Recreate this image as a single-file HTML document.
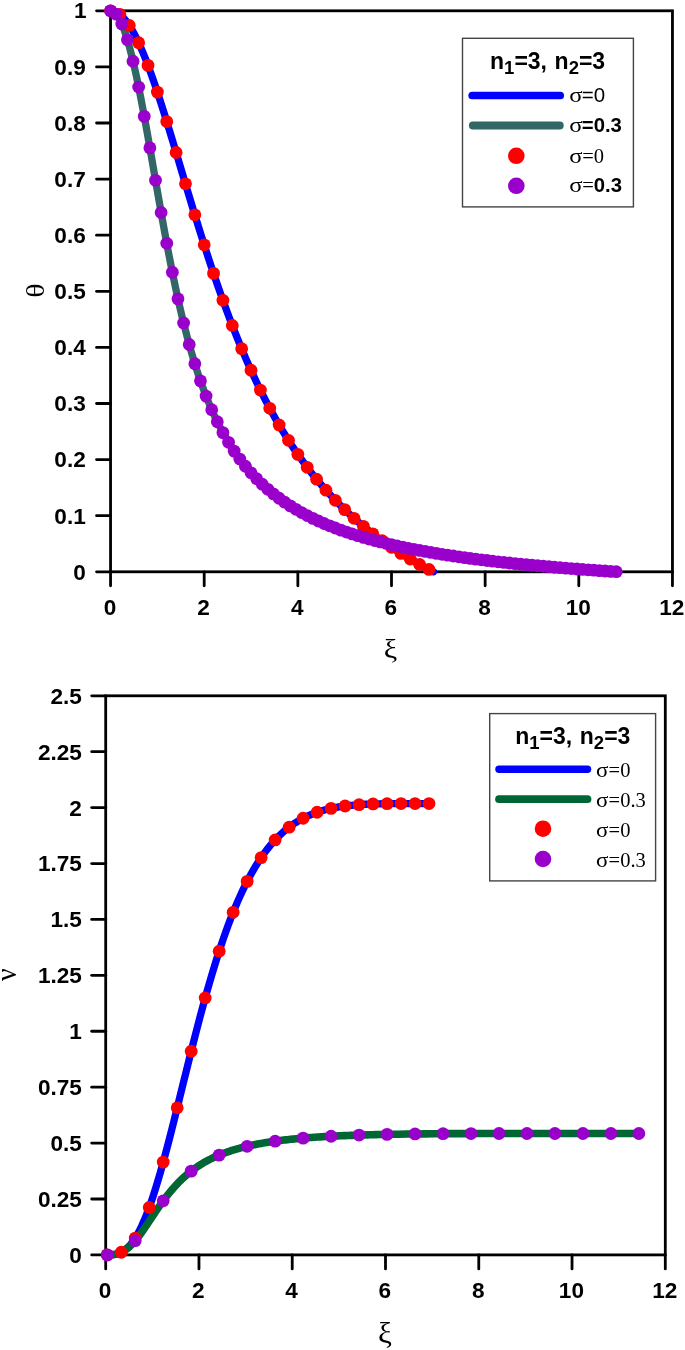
<!DOCTYPE html>
<html lang="en"><head><meta charset="utf-8"><title>Polytrope plots</title>
<style>html,body{margin:0;padding:0;background:#fff}svg{display:block}</style></head>
<body>
<svg width="685" height="1350" viewBox="0 0 685 1350">
<rect width="685" height="1350" fill="#fff"/>
<!-- top plot -->
<g stroke="#000" stroke-width="2.8" fill="none" stroke-linecap="butt">
<rect x="110.55" y="10.8" width="561.9" height="561"/>
<g stroke-linecap="round">
<line x1="110.55" y1="571.8" x2="110.55" y2="585.8"/>
<line x1="204.2" y1="571.8" x2="204.2" y2="585.8"/>
<line x1="297.85" y1="571.8" x2="297.85" y2="585.8"/>
<line x1="391.5" y1="571.8" x2="391.5" y2="585.8"/>
<line x1="485.15" y1="571.8" x2="485.15" y2="585.8"/>
<line x1="578.8" y1="571.8" x2="578.8" y2="585.8"/>
<line x1="672.45" y1="571.8" x2="672.45" y2="585.8"/>
<line x1="96.55" y1="571.8" x2="110.55" y2="571.8"/>
<line x1="96.55" y1="515.7" x2="110.55" y2="515.7"/>
<line x1="96.55" y1="459.6" x2="110.55" y2="459.6"/>
<line x1="96.55" y1="403.5" x2="110.55" y2="403.5"/>
<line x1="96.55" y1="347.4" x2="110.55" y2="347.4"/>
<line x1="96.55" y1="291.3" x2="110.55" y2="291.3"/>
<line x1="96.55" y1="235.2" x2="110.55" y2="235.2"/>
<line x1="96.55" y1="179.1" x2="110.55" y2="179.1"/>
<line x1="96.55" y1="123" x2="110.55" y2="123"/>
<line x1="96.55" y1="66.9" x2="110.55" y2="66.9"/>
<line x1="96.55" y1="10.8" x2="110.55" y2="10.8"/>
</g></g>
<text x="109.95" y="615.19" font-family='"Liberation Sans", Arial, Helvetica, sans-serif' font-size="22.6" font-weight="bold" text-anchor="middle">0</text>
<text x="203.6" y="615.19" font-family='"Liberation Sans", Arial, Helvetica, sans-serif' font-size="22.6" font-weight="bold" text-anchor="middle">2</text>
<text x="297.25" y="615.19" font-family='"Liberation Sans", Arial, Helvetica, sans-serif' font-size="22.6" font-weight="bold" text-anchor="middle">4</text>
<text x="390.9" y="615.19" font-family='"Liberation Sans", Arial, Helvetica, sans-serif' font-size="22.6" font-weight="bold" text-anchor="middle">6</text>
<text x="484.55" y="615.19" font-family='"Liberation Sans", Arial, Helvetica, sans-serif' font-size="22.6" font-weight="bold" text-anchor="middle">8</text>
<text x="578.2" y="615.19" font-family='"Liberation Sans", Arial, Helvetica, sans-serif' font-size="22.6" font-weight="bold" text-anchor="middle">10</text>
<text x="671.85" y="615.19" font-family='"Liberation Sans", Arial, Helvetica, sans-serif' font-size="22.6" font-weight="bold" text-anchor="middle">12</text>
<text x="85.75" y="579.69" font-family='"Liberation Sans", Arial, Helvetica, sans-serif' font-size="22.6" font-weight="bold" text-anchor="end">0</text>
<text x="85.75" y="523.59" font-family='"Liberation Sans", Arial, Helvetica, sans-serif' font-size="22.6" font-weight="bold" text-anchor="end">0.1</text>
<text x="85.75" y="467.49" font-family='"Liberation Sans", Arial, Helvetica, sans-serif' font-size="22.6" font-weight="bold" text-anchor="end">0.2</text>
<text x="85.75" y="411.39" font-family='"Liberation Sans", Arial, Helvetica, sans-serif' font-size="22.6" font-weight="bold" text-anchor="end">0.3</text>
<text x="85.75" y="355.29" font-family='"Liberation Sans", Arial, Helvetica, sans-serif' font-size="22.6" font-weight="bold" text-anchor="end">0.4</text>
<text x="85.75" y="299.19" font-family='"Liberation Sans", Arial, Helvetica, sans-serif' font-size="22.6" font-weight="bold" text-anchor="end">0.5</text>
<text x="85.75" y="243.09" font-family='"Liberation Sans", Arial, Helvetica, sans-serif' font-size="22.6" font-weight="bold" text-anchor="end">0.6</text>
<text x="85.75" y="186.99" font-family='"Liberation Sans", Arial, Helvetica, sans-serif' font-size="22.6" font-weight="bold" text-anchor="end">0.7</text>
<text x="85.75" y="130.89" font-family='"Liberation Sans", Arial, Helvetica, sans-serif' font-size="22.6" font-weight="bold" text-anchor="end">0.8</text>
<text x="85.75" y="74.79" font-family='"Liberation Sans", Arial, Helvetica, sans-serif' font-size="22.6" font-weight="bold" text-anchor="end">0.9</text>
<text x="86.55" y="17.69" font-family='"Liberation Sans", Arial, Helvetica, sans-serif' font-size="22.6" font-weight="bold" text-anchor="end">1</text>
<polyline points="110.55,10.8 112.87,11.03 115.2,11.72 117.52,12.86 119.84,14.46 122.17,16.5 124.49,18.98 126.81,21.88 129.14,25.19 131.46,28.9 133.78,33 136.11,37.46 138.43,42.27 140.75,47.42 143.08,52.87 145.4,58.62 147.72,64.64 150.05,70.91 152.37,77.42 154.69,84.13 157.02,91.03 159.34,98.11 161.66,105.33 163.99,112.69 166.31,120.15 168.63,127.72 170.96,135.35 173.28,143.05 175.6,150.8 177.93,158.57 180.25,166.36 182.57,174.15 184.9,181.93 187.22,189.69 189.54,197.41 191.87,205.09 194.19,212.72 196.51,220.29 198.84,227.8 201.16,235.23 203.48,242.57 205.81,249.83 208.13,257.01 210.45,264.08 212.78,271.06 215.1,277.93 217.42,284.7 219.75,291.37 222.07,297.92 224.39,304.36 226.72,310.7 229.04,316.92 231.36,323.03 233.69,329.02 236.01,334.91 238.33,340.68 240.66,346.34 242.98,351.89 245.3,357.34 247.63,362.67 249.95,367.89 252.27,373.01 254.6,378.03 256.92,382.94 259.24,387.75 261.57,392.46 263.89,397.07 266.21,401.59 268.54,406.01 270.86,410.33 273.18,414.57 275.51,418.72 277.83,422.77 280.15,426.75 282.48,430.64 284.8,434.45 287.12,438.17 289.45,441.82 291.77,445.39 294.09,448.89 296.42,452.32 298.74,455.67 301.06,458.95 303.39,462.17 305.71,465.32 308.03,468.4 310.36,471.42 312.68,474.38 315,477.28 317.33,480.12 319.65,482.91 321.97,485.64 324.3,488.31 326.62,490.93 328.94,493.5 331.27,496.02 333.59,498.49 335.91,500.91 338.24,503.28 340.56,505.61 342.88,507.9 345.21,510.14 347.53,512.34 349.85,514.5 352.18,516.62 354.5,518.7 356.82,520.74 359.15,522.74 361.47,524.71 363.79,526.64 366.12,528.54 368.44,530.41 370.76,532.24 373.09,534.04 375.41,535.81 377.73,537.55 380.06,539.26 382.38,540.94 384.7,542.59 387.03,544.21 389.35,545.81 391.67,547.38 394,548.93 396.32,550.45 398.64,551.94 400.97,553.41 403.29,554.86 405.61,556.29 407.94,557.69 410.26,559.07 412.58,560.43 414.91,561.77 417.23,563.09 419.55,564.39 421.88,565.67 424.2,566.94 426.52,568.18 428.85,569.4 431.17,570.61 433.49,571.8" fill="none" stroke="#0000ff" stroke-width="7.3" stroke-linecap="round" stroke-linejoin="round"/>
<polyline points="110.55,10.8 112.87,11.36 115.18,13.06 117.5,15.86 119.81,19.76 122.13,24.73 124.45,30.73 126.76,37.72 129.08,45.65 131.4,54.47 133.71,64.11 136.03,74.51 138.34,85.58 140.66,97.24 142.98,109.42 145.29,122.01 147.61,134.95 149.93,148.12 152.24,161.44 154.56,174.83 156.87,188.21 159.19,201.49 161.51,214.61 163.82,227.5 166.14,240.11 168.45,252.39 170.77,264.32 173.09,275.85 175.4,286.98 177.72,297.68 180.04,307.96 182.35,317.8 184.67,327.22 186.98,336.21 189.3,344.8 191.62,352.99 193.93,360.8 196.25,368.24 198.56,375.34 200.88,382.09 203.2,388.53 205.51,394.66 207.83,400.51 210.15,406.08 212.46,411.4 214.78,416.48 217.09,421.33 219.41,425.96 221.73,430.38 224.04,434.61 226.36,438.66 228.68,442.54 230.99,446.26 233.31,449.82 235.62,453.23 237.94,456.51 240.26,459.66 242.57,462.69 244.89,465.6 247.2,468.39 249.52,471.09 251.84,473.68 254.15,476.18 256.47,478.59 258.79,480.91 261.1,483.16 263.42,485.32 265.73,487.41 268.05,489.44 270.37,491.39 272.68,493.28 275,495.11 277.32,496.89 279.63,498.61 281.95,500.27 284.26,501.88 286.58,503.45 288.9,504.97 291.21,506.44 293.53,507.88 295.84,509.27 298.16,510.62 300.48,511.93 302.79,513.21 305.11,514.45 307.43,515.66 309.74,516.84 312.06,517.99 314.37,519.11 316.69,520.19 319.01,521.25 321.32,522.29 323.64,523.3 325.95,524.28 328.27,525.24 330.59,526.18 332.9,527.09 335.22,527.99 337.54,528.86 339.85,529.71 342.17,530.55 344.48,531.36 346.8,532.16 349.12,532.94 351.43,533.7 353.75,534.44 356.07,535.17 358.38,535.89 360.7,536.59 363.01,537.27 365.33,537.94 367.65,538.6 369.96,539.24 372.28,539.87 374.59,540.49 376.91,541.1 379.23,541.69 381.54,542.27 383.86,542.84 386.18,543.4 388.49,543.95 390.81,544.49 393.12,545.02 395.44,545.55 397.76,546.06 400.07,546.56 402.39,547.05 404.71,547.53 407.02,548.01 409.34,548.48 411.65,548.94 413.97,549.39 416.29,549.83 418.6,550.27 420.92,550.7 423.23,551.12 425.55,551.53 427.87,551.94 430.18,552.34 432.5,552.74 434.82,553.13 437.13,553.51 439.45,553.89 441.76,554.26 444.08,554.62 446.4,554.98 448.71,555.34 451.03,555.69 453.35,556.03 455.66,556.37 457.98,556.7 460.29,557.03 462.61,557.35 464.93,557.67 467.24,557.99 469.56,558.3 471.87,558.6 474.19,558.9 476.51,559.2 478.82,559.49 481.14,559.78 483.46,560.07 485.77,560.35 488.09,560.63 490.4,560.9 492.72,561.17 495.04,561.43 497.35,561.7 499.67,561.96 501.98,562.21 504.3,562.46 506.62,562.71 508.93,562.96 511.25,563.2 513.57,563.44 515.88,563.68 518.2,563.91 520.51,564.15 522.83,564.37 525.15,564.6 527.46,564.82 529.78,565.04 532.1,565.26 534.41,565.47 536.73,565.69 539.04,565.9 541.36,566.1 543.68,566.31 545.99,566.51 548.31,566.71 550.62,566.91 552.94,567.1 555.26,567.3 557.57,567.49 559.89,567.68 562.21,567.86 564.52,568.05 566.84,568.23 569.15,568.41 571.47,568.59 573.79,568.77 576.1,568.94 578.42,569.12 580.74,569.29 583.05,569.46 585.37,569.63 587.68,569.79 590,569.96 592.32,570.12 594.63,570.28 596.95,570.44 599.26,570.6 601.58,570.75 603.9,570.91 606.21,571.06 608.53,571.21 610.85,571.36 613.16,571.51 615.48,571.65 617.79,571.8" fill="none" stroke="#336666" stroke-width="7.3" stroke-linecap="round" stroke-linejoin="round"/>
<g fill="#ff0000">
<circle cx="110.55" cy="10.8" r="6.4"/>
<circle cx="119.91" cy="14.52" r="6.4"/>
<circle cx="129.28" cy="25.41" r="6.4"/>
<circle cx="138.65" cy="42.74" r="6.4"/>
<circle cx="148.01" cy="65.4" r="6.4"/>
<circle cx="157.38" cy="92.11" r="6.4"/>
<circle cx="166.74" cy="121.55" r="6.4"/>
<circle cx="176.11" cy="152.47" r="6.4"/>
<circle cx="185.47" cy="183.84" r="6.4"/>
<circle cx="194.84" cy="214.83" r="6.4"/>
<circle cx="204.2" cy="244.82" r="6.4"/>
<circle cx="213.57" cy="273.4" r="6.4"/>
<circle cx="222.93" cy="300.32" r="6.4"/>
<circle cx="232.3" cy="325.44" r="6.4"/>
<circle cx="241.66" cy="348.75" r="6.4"/>
<circle cx="251.03" cy="370.27" r="6.4"/>
<circle cx="260.39" cy="390.08" r="6.4"/>
<circle cx="269.76" cy="408.28" r="6.4"/>
<circle cx="279.12" cy="424.99" r="6.4"/>
<circle cx="288.49" cy="440.32" r="6.4"/>
<circle cx="297.85" cy="454.39" r="6.4"/>
<circle cx="307.22" cy="467.32" r="6.4"/>
<circle cx="316.58" cy="479.22" r="6.4"/>
<circle cx="325.95" cy="490.17" r="6.4"/>
<circle cx="335.31" cy="500.28" r="6.4"/>
<circle cx="344.68" cy="509.63" r="6.4"/>
<circle cx="354.04" cy="518.29" r="6.4"/>
<circle cx="363.41" cy="526.32" r="6.4"/>
<circle cx="372.77" cy="533.8" r="6.4"/>
<circle cx="382.14" cy="540.76" r="6.4"/>
<circle cx="391.5" cy="547.26" r="6.4"/>
<circle cx="400.87" cy="553.35" r="6.4"/>
<circle cx="410.23" cy="559.06" r="6.4"/>
<circle cx="419.6" cy="564.42" r="6.4"/>
<circle cx="428.96" cy="569.46" r="6.4"/>
</g>
<g fill="#9900cc">
<circle cx="110.55" cy="10.8" r="6.4"/>
<circle cx="116.17" cy="14.11" r="6.4"/>
<circle cx="121.79" cy="23.92" r="6.4"/>
<circle cx="127.41" cy="39.83" r="6.4"/>
<circle cx="133.03" cy="61.18" r="6.4"/>
<circle cx="138.65" cy="87.06" r="6.4"/>
<circle cx="144.26" cy="116.37" r="6.4"/>
<circle cx="149.88" cy="147.88" r="6.4"/>
<circle cx="155.5" cy="180.3" r="6.4"/>
<circle cx="161.12" cy="212.44" r="6.4"/>
<circle cx="166.74" cy="243.33" r="6.4"/>
<circle cx="172.36" cy="272.27" r="6.4"/>
<circle cx="177.98" cy="298.85" r="6.4"/>
<circle cx="183.6" cy="322.91" r="6.4"/>
<circle cx="189.22" cy="344.5" r="6.4"/>
<circle cx="194.84" cy="363.74" r="6.4"/>
<circle cx="200.45" cy="380.87" r="6.4"/>
<circle cx="206.07" cy="396.1" r="6.4"/>
<circle cx="211.69" cy="409.66" r="6.4"/>
<circle cx="217.31" cy="421.77" r="6.4"/>
<circle cx="222.93" cy="432.6" r="6.4"/>
<circle cx="228.55" cy="442.34" r="6.4"/>
<circle cx="234.17" cy="451.1" r="6.4"/>
<circle cx="239.79" cy="459.03" r="6.4"/>
<circle cx="245.41" cy="466.23" r="6.4"/>
<circle cx="251.03" cy="472.78" r="6.4"/>
<circle cx="256.64" cy="478.77" r="6.4"/>
<circle cx="262.26" cy="484.25" r="6.4"/>
<circle cx="267.88" cy="489.29" r="6.4"/>
<circle cx="273.5" cy="493.94" r="6.4"/>
<circle cx="279.12" cy="498.23" r="6.4"/>
<circle cx="284.74" cy="502.21" r="6.4"/>
<circle cx="290.36" cy="505.9" r="6.4"/>
<circle cx="295.98" cy="509.34" r="6.4"/>
<circle cx="301.6" cy="512.55" r="6.4"/>
<circle cx="307.22" cy="515.56" r="6.4"/>
<circle cx="312.83" cy="518.37" r="6.4"/>
<circle cx="318.45" cy="521" r="6.4"/>
<circle cx="324.07" cy="523.48" r="6.4"/>
<circle cx="329.69" cy="525.82" r="6.4"/>
<circle cx="335.31" cy="528.02" r="6.4"/>
<circle cx="340.93" cy="530.1" r="6.4"/>
<circle cx="346.55" cy="532.07" r="6.4"/>
<circle cx="352.17" cy="533.94" r="6.4"/>
<circle cx="357.79" cy="535.7" r="6.4"/>
<circle cx="363.41" cy="537.38" r="6.4"/>
<circle cx="369.02" cy="538.98" r="6.4"/>
<circle cx="374.64" cy="540.5" r="6.4"/>
<circle cx="380.26" cy="541.95" r="6.4"/>
<circle cx="385.88" cy="543.33" r="6.4"/>
<circle cx="391.5" cy="544.65" r="6.4"/>
<circle cx="397.12" cy="545.92" r="6.4"/>
<circle cx="402.74" cy="547.12" r="6.4"/>
<circle cx="408.36" cy="548.28" r="6.4"/>
<circle cx="413.98" cy="549.39" r="6.4"/>
<circle cx="419.6" cy="550.45" r="6.4"/>
<circle cx="425.21" cy="551.47" r="6.4"/>
<circle cx="430.83" cy="552.46" r="6.4"/>
<circle cx="436.45" cy="553.4" r="6.4"/>
<circle cx="442.07" cy="554.31" r="6.4"/>
<circle cx="447.69" cy="555.18" r="6.4"/>
<circle cx="453.31" cy="556.02" r="6.4"/>
<circle cx="458.93" cy="556.84" r="6.4"/>
<circle cx="464.55" cy="557.62" r="6.4"/>
<circle cx="470.17" cy="558.38" r="6.4"/>
<circle cx="475.79" cy="559.11" r="6.4"/>
<circle cx="481.4" cy="559.81" r="6.4"/>
<circle cx="487.02" cy="560.5" r="6.4"/>
<circle cx="492.64" cy="561.16" r="6.4"/>
<circle cx="498.26" cy="561.8" r="6.4"/>
<circle cx="503.88" cy="562.42" r="6.4"/>
<circle cx="509.5" cy="563.02" r="6.4"/>
<circle cx="515.12" cy="563.6" r="6.4"/>
<circle cx="520.74" cy="564.17" r="6.4"/>
<circle cx="526.36" cy="564.72" r="6.4"/>
<circle cx="531.98" cy="565.25" r="6.4"/>
<circle cx="537.59" cy="565.76" r="6.4"/>
<circle cx="543.21" cy="566.27" r="6.4"/>
<circle cx="548.83" cy="566.76" r="6.4"/>
<circle cx="554.45" cy="567.23" r="6.4"/>
<circle cx="560.07" cy="567.69" r="6.4"/>
<circle cx="565.69" cy="568.14" r="6.4"/>
<circle cx="571.31" cy="568.58" r="6.4"/>
<circle cx="576.93" cy="569.01" r="6.4"/>
<circle cx="582.55" cy="569.42" r="6.4"/>
<circle cx="588.17" cy="569.83" r="6.4"/>
<circle cx="593.78" cy="570.22" r="6.4"/>
<circle cx="599.4" cy="570.6" r="6.4"/>
<circle cx="605.02" cy="570.98" r="6.4"/>
<circle cx="610.64" cy="571.35" r="6.4"/>
<circle cx="616.26" cy="571.7" r="6.4"/>
</g>
<text transform="translate(43.6,290.5) rotate(-90) scale(1.15,1)" font-family='"Liberation Serif", "Times New Roman", serif' font-size="26" text-anchor="middle">θ</text>
<text transform="translate(390.5,658) scale(1.16,1.03)" font-family='"Liberation Serif", "Times New Roman", serif' font-size="26" text-anchor="middle">ξ</text>
<rect x="462.5" y="38.3" width="170.9" height="168.6" fill="#fff" stroke="#444" stroke-width="1.4"/>
<text x="547.6" y="68.6" font-family='"Liberation Sans", Arial, Helvetica, sans-serif' font-size="23" font-weight="bold" text-anchor="middle" word-spacing="1.2">n<tspan font-size="18.5" dy="5.3">1</tspan><tspan dy="-5.3">=3, n</tspan><tspan font-size="18.5" dy="5.3">2</tspan><tspan dy="-5.3">=3</tspan></text>
<line x1="472.2" y1="95.5" x2="560.2" y2="95.5" stroke="#0000ff" stroke-width="7.7" stroke-linecap="round"/>
<line x1="472.8" y1="125.5" x2="559.8" y2="125.5" stroke="#336666" stroke-width="7.8" stroke-linecap="round"/>
<circle cx="516.3" cy="155.8" r="8.3" fill="#ff0000"/>
<circle cx="516.3" cy="185.8" r="8.3" fill="#9900cc"/>
<text transform="translate(569.3,102.3) scale(1.23,1)" font-size="20" font-family='"Liberation Serif", "Times New Roman", serif'>σ</text>
<text x="581.8" y="102.3" font-size="20.5" font-family='"Liberation Sans", Arial, Helvetica, sans-serif'>=0</text>
<text transform="translate(569.3,131.8) scale(1.23,1)" font-size="20" font-family='"Liberation Serif", "Times New Roman", serif'>σ</text>
<text x="581.8" y="131.8" font-size="20.3" font-family='"Liberation Sans", Arial, Helvetica, sans-serif' font-weight="bold">=0.3</text>
<text transform="translate(569.3,162.8) scale(1.23,1)" font-size="20" font-family='"Liberation Serif", "Times New Roman", serif'>σ</text>
<text x="582.2" y="162.8" font-size="20.5" font-family='"Liberation Serif", "Times New Roman", serif'>=0</text>
<text transform="translate(569.3,192.4) scale(1.23,1)" font-size="20" font-family='"Liberation Serif", "Times New Roman", serif'>σ</text>
<text x="582.2" y="192.4" font-size="20.5" font-family='"Liberation Serif", "Times New Roman", serif'>=<tspan font-family='"Liberation Sans", Arial, Helvetica, sans-serif' font-size="20.3" font-weight="bold">0.3</tspan></text>
<!-- bottom plot -->
<g stroke="#000" stroke-width="2.8" fill="none" stroke-linecap="butt">
<rect x="105.7" y="695.8" width="559.6" height="559.1"/>
<g stroke-linecap="round">
<line x1="105.7" y1="1254.9" x2="105.7" y2="1268.9"/>
<line x1="198.97" y1="1254.9" x2="198.97" y2="1268.9"/>
<line x1="292.23" y1="1254.9" x2="292.23" y2="1268.9"/>
<line x1="385.5" y1="1254.9" x2="385.5" y2="1268.9"/>
<line x1="478.77" y1="1254.9" x2="478.77" y2="1268.9"/>
<line x1="572.03" y1="1254.9" x2="572.03" y2="1268.9"/>
<line x1="665.3" y1="1254.9" x2="665.3" y2="1268.9"/>
<line x1="91.7" y1="1254.9" x2="105.7" y2="1254.9"/>
<line x1="91.7" y1="1198.99" x2="105.7" y2="1198.99"/>
<line x1="91.7" y1="1143.08" x2="105.7" y2="1143.08"/>
<line x1="91.7" y1="1087.17" x2="105.7" y2="1087.17"/>
<line x1="91.7" y1="1031.26" x2="105.7" y2="1031.26"/>
<line x1="91.7" y1="975.35" x2="105.7" y2="975.35"/>
<line x1="91.7" y1="919.44" x2="105.7" y2="919.44"/>
<line x1="91.7" y1="863.53" x2="105.7" y2="863.53"/>
<line x1="91.7" y1="807.62" x2="105.7" y2="807.62"/>
<line x1="91.7" y1="751.71" x2="105.7" y2="751.71"/>
<line x1="91.7" y1="695.8" x2="105.7" y2="695.8"/>
</g></g>
<text x="105.1" y="1298.29" font-family='"Liberation Sans", Arial, Helvetica, sans-serif' font-size="22.6" font-weight="bold" text-anchor="middle">0</text>
<text x="198.37" y="1298.29" font-family='"Liberation Sans", Arial, Helvetica, sans-serif' font-size="22.6" font-weight="bold" text-anchor="middle">2</text>
<text x="291.63" y="1298.29" font-family='"Liberation Sans", Arial, Helvetica, sans-serif' font-size="22.6" font-weight="bold" text-anchor="middle">4</text>
<text x="384.9" y="1298.29" font-family='"Liberation Sans", Arial, Helvetica, sans-serif' font-size="22.6" font-weight="bold" text-anchor="middle">6</text>
<text x="478.17" y="1298.29" font-family='"Liberation Sans", Arial, Helvetica, sans-serif' font-size="22.6" font-weight="bold" text-anchor="middle">8</text>
<text x="571.43" y="1298.29" font-family='"Liberation Sans", Arial, Helvetica, sans-serif' font-size="22.6" font-weight="bold" text-anchor="middle">10</text>
<text x="664.7" y="1298.29" font-family='"Liberation Sans", Arial, Helvetica, sans-serif' font-size="22.6" font-weight="bold" text-anchor="middle">12</text>
<text x="81.9" y="1262.79" font-family='"Liberation Sans", Arial, Helvetica, sans-serif' font-size="22.6" font-weight="bold" text-anchor="end">0</text>
<text x="81.9" y="1206.88" font-family='"Liberation Sans", Arial, Helvetica, sans-serif' font-size="22.6" font-weight="bold" text-anchor="end">0.25</text>
<text x="81.9" y="1150.97" font-family='"Liberation Sans", Arial, Helvetica, sans-serif' font-size="22.6" font-weight="bold" text-anchor="end">0.5</text>
<text x="81.9" y="1095.06" font-family='"Liberation Sans", Arial, Helvetica, sans-serif' font-size="22.6" font-weight="bold" text-anchor="end">0.75</text>
<text x="81.9" y="1039.15" font-family='"Liberation Sans", Arial, Helvetica, sans-serif' font-size="22.6" font-weight="bold" text-anchor="end">1</text>
<text x="81.9" y="983.24" font-family='"Liberation Sans", Arial, Helvetica, sans-serif' font-size="22.6" font-weight="bold" text-anchor="end">1.25</text>
<text x="81.9" y="927.33" font-family='"Liberation Sans", Arial, Helvetica, sans-serif' font-size="22.6" font-weight="bold" text-anchor="end">1.5</text>
<text x="81.9" y="871.42" font-family='"Liberation Sans", Arial, Helvetica, sans-serif' font-size="22.6" font-weight="bold" text-anchor="end">1.75</text>
<text x="81.9" y="815.51" font-family='"Liberation Sans", Arial, Helvetica, sans-serif' font-size="22.6" font-weight="bold" text-anchor="end">2</text>
<text x="81.9" y="759.6" font-family='"Liberation Sans", Arial, Helvetica, sans-serif' font-size="22.6" font-weight="bold" text-anchor="end">2.25</text>
<text x="81.9" y="703.69" font-family='"Liberation Sans", Arial, Helvetica, sans-serif' font-size="22.6" font-weight="bold" text-anchor="end">2.5</text>
<polyline points="106.63,1254.9 108.97,1254.87 111.3,1254.77 113.64,1254.54 115.97,1254.11 118.31,1253.46 120.64,1252.52 122.98,1251.26 125.31,1249.64 127.65,1247.62 129.98,1245.18 132.32,1242.3 134.65,1238.96 136.99,1235.14 139.32,1230.85 141.66,1226.09 143.99,1220.85 146.33,1215.16 148.66,1209.02 151,1202.45 153.33,1195.48 155.67,1188.13 158,1180.43 160.34,1172.4 162.67,1164.08 165.01,1155.51 167.34,1146.7 169.68,1137.71 172.01,1128.55 174.35,1119.27 176.68,1109.89 179.02,1100.45 181.35,1090.97 183.69,1081.48 186.02,1072.02 188.36,1062.6 190.69,1053.25 193.03,1043.99 195.36,1034.84 197.7,1025.82 200.03,1016.94 202.37,1008.23 204.7,999.69 207.04,991.33 209.37,983.17 211.71,975.21 214.04,967.45 216.38,959.92 218.71,952.6 221.05,945.51 223.38,938.64 225.72,932 228.05,925.58 230.39,919.39 232.72,913.42 235.06,907.68 237.39,902.16 239.73,896.85 242.06,891.76 244.4,886.88 246.73,882.21 249.07,877.73 251.4,873.46 253.74,869.37 256.07,865.47 258.41,861.75 260.74,858.21 263.08,854.84 265.41,851.64 267.75,848.59 270.08,845.7 272.42,842.95 274.75,840.35 277.09,837.89 279.42,835.56 281.76,833.36 284.09,831.27 286.43,829.31 288.76,827.46 291.1,825.72 293.43,824.07 295.77,822.53 298.1,821.08 300.44,819.72 302.77,818.45 305.11,817.26 307.44,816.14 309.78,815.1 312.11,814.12 314.45,813.22 316.78,812.37 319.12,811.59 321.45,810.86 323.79,810.19 326.12,809.56 328.46,808.98 330.79,808.45 333.13,807.96 335.46,807.51 337.8,807.09 340.13,806.71 342.47,806.37 344.8,806.05 347.14,805.76 349.47,805.5 351.81,805.26 354.14,805.05 356.48,804.86 358.81,804.68 361.15,804.53 363.49,804.39 365.82,804.27 368.16,804.16 370.49,804.06 372.83,803.98 375.16,803.91 377.5,803.84 379.83,803.79 382.17,803.74 384.5,803.7 386.84,803.67 389.17,803.64 391.51,803.62 393.84,803.6 396.18,803.59 398.51,803.57 400.85,803.56 403.18,803.56 405.52,803.55 407.85,803.55 410.19,803.55 412.52,803.54 414.86,803.54 417.19,803.54 419.53,803.54 421.86,803.54 424.2,803.54 426.53,803.54 428.87,803.54 431.2,803.54" fill="none" stroke="#0000ff" stroke-width="7.3" stroke-linecap="round" stroke-linejoin="round"/>
<polyline points="106.63,1254.9 108.39,1254.89 110.14,1254.84 111.89,1254.73 113.65,1254.54 115.4,1254.25 117.16,1253.84 118.91,1253.3 120.66,1252.62 122.42,1251.77 124.17,1250.77 125.93,1249.6 127.68,1248.26 129.43,1246.75 131.19,1245.08 132.94,1243.26 134.69,1241.3 136.45,1239.2 138.2,1236.99 139.96,1234.66 141.71,1232.25 143.46,1229.76 145.22,1227.21 146.97,1224.62 148.73,1222 150.48,1219.36 152.23,1216.72 153.99,1214.09 155.74,1211.49 157.5,1208.91 159.25,1206.38 161,1203.89 162.76,1201.45 164.51,1199.08 166.26,1196.76 168.02,1194.52 169.77,1192.33 171.53,1190.22 173.28,1188.18 175.03,1186.21 176.79,1184.31 178.54,1182.48 180.3,1180.71 182.05,1179.01 183.8,1177.38 185.56,1175.8 187.31,1174.29 189.07,1172.84 190.82,1171.44 192.57,1170.1 194.33,1168.81 196.08,1167.57 197.83,1166.39 199.59,1165.24 201.34,1164.14 203.1,1163.09 204.85,1162.07 206.6,1161.09 208.36,1160.16 210.11,1159.25 211.87,1158.38 213.62,1157.55 215.37,1156.74 217.13,1155.97 218.88,1155.22 220.64,1154.51 222.39,1153.81 224.14,1153.15 225.9,1152.5 227.65,1151.88 229.4,1151.29 231.16,1150.71 232.91,1150.15 234.67,1149.62 236.42,1149.1 238.17,1148.6 239.93,1148.12 241.68,1147.65 243.44,1147.2 245.19,1146.77 246.94,1146.35 248.7,1145.94 250.45,1145.55 252.2,1145.17 253.96,1144.8 255.71,1144.44 257.47,1144.1 259.22,1143.77 260.97,1143.45 262.73,1143.13 264.48,1142.83 266.24,1142.54 267.99,1142.26 269.74,1141.99 271.5,1141.72 273.25,1141.46 275.01,1141.22 276.76,1140.97 278.51,1140.74 280.27,1140.52 282.02,1140.3 283.77,1140.08 285.53,1139.88 287.28,1139.68 289.04,1139.49 290.79,1139.3 292.54,1139.12 294.3,1138.94 296.05,1138.77 297.81,1138.6 299.56,1138.44 301.31,1138.29 303.07,1138.14 304.82,1137.99 306.58,1137.85 308.33,1137.71 310.08,1137.57 311.84,1137.45 313.59,1137.32 315.34,1137.2 317.1,1137.08 318.85,1136.96 320.61,1136.85 322.36,1136.74 324.11,1136.64 325.87,1136.54 327.62,1136.44 329.38,1136.34 331.13,1136.25 332.88,1136.16 334.64,1136.07 336.39,1135.99 338.15,1135.9 339.9,1135.82 341.65,1135.75 343.41,1135.67 345.16,1135.6 346.91,1135.53 348.67,1135.46 350.42,1135.39 352.18,1135.33 353.93,1135.26 355.68,1135.2 357.44,1135.14 359.19,1135.09 360.95,1135.03 362.7,1134.98 364.45,1134.93 366.21,1134.88 367.96,1134.83 369.72,1134.78 371.47,1134.73 373.22,1134.69 374.98,1134.65 376.73,1134.6 378.48,1134.56 380.24,1134.52 381.99,1134.49 383.75,1134.45 385.5,1134.41 390.16,1134.32 398.74,1134.18 407.31,1134.05 415.89,1133.95 424.47,1133.86 433.04,1133.79 441.62,1133.72 450.19,1133.67 458.77,1133.63 467.34,1133.6 475.92,1133.57 484.5,1133.55 493.07,1133.53 501.65,1133.51 510.22,1133.5 518.8,1133.49 527.37,1133.49 535.95,1133.48 544.53,1133.48 553.1,1133.48 561.68,1133.48 570.25,1133.48 578.83,1133.48 587.4,1133.48 595.98,1133.48 604.56,1133.48 613.13,1133.48 621.71,1133.48 630.28,1133.48 638.86,1133.48" fill="none" stroke="#006633" stroke-width="7.6" stroke-linecap="round" stroke-linejoin="round"/>
<g fill="#ff0000">
<circle cx="107.25" cy="1254.9" r="6.4"/>
<circle cx="121.24" cy="1252.23" r="6.4"/>
<circle cx="135.23" cy="1238.05" r="6.4"/>
<circle cx="149.22" cy="1207.48" r="6.4"/>
<circle cx="163.21" cy="1162.12" r="6.4"/>
<circle cx="177.2" cy="1107.79" r="6.4"/>
<circle cx="191.19" cy="1051.25" r="6.4"/>
<circle cx="205.18" cy="997.95" r="6.4"/>
<circle cx="219.17" cy="951.18" r="6.4"/>
<circle cx="233.16" cy="912.32" r="6.4"/>
<circle cx="247.15" cy="881.39" r="6.4"/>
<circle cx="261.14" cy="857.62" r="6.4"/>
<circle cx="275.13" cy="839.94" r="6.4"/>
<circle cx="289.12" cy="827.18" r="6.4"/>
<circle cx="303.11" cy="818.27" r="6.4"/>
<circle cx="317.1" cy="812.26" r="6.4"/>
<circle cx="331.09" cy="808.38" r="6.4"/>
<circle cx="345.08" cy="806.01" r="6.4"/>
<circle cx="359.07" cy="804.67" r="6.4"/>
<circle cx="373.06" cy="803.97" r="6.4"/>
<circle cx="387.05" cy="803.67" r="6.4"/>
<circle cx="401.04" cy="803.56" r="6.4"/>
<circle cx="415.03" cy="803.54" r="6.4"/>
<circle cx="429.02" cy="803.54" r="6.4"/>
</g>
<g fill="#9900cc">
<circle cx="107.25" cy="1254.9" r="6.4"/>
<circle cx="135.23" cy="1240.67" r="6.4"/>
<circle cx="163.21" cy="1200.83" r="6.4"/>
<circle cx="191.19" cy="1171.15" r="6.4"/>
<circle cx="219.17" cy="1155.1" r="6.4"/>
<circle cx="247.15" cy="1146.3" r="6.4"/>
<circle cx="275.13" cy="1141.2" r="6.4"/>
<circle cx="303.11" cy="1138.13" r="6.4"/>
<circle cx="331.09" cy="1136.25" r="6.4"/>
<circle cx="359.07" cy="1135.09" r="6.4"/>
<circle cx="387.05" cy="1134.38" r="6.4"/>
<circle cx="415.03" cy="1133.96" r="6.4"/>
<circle cx="443.01" cy="1133.72" r="6.4"/>
<circle cx="470.99" cy="1133.58" r="6.4"/>
<circle cx="498.97" cy="1133.52" r="6.4"/>
<circle cx="526.95" cy="1133.49" r="6.4"/>
<circle cx="554.93" cy="1133.48" r="6.4"/>
<circle cx="582.91" cy="1133.48" r="6.4"/>
<circle cx="610.89" cy="1133.48" r="6.4"/>
<circle cx="638.87" cy="1133.48" r="6.4"/>
</g>
<text transform="translate(16.4,974.6) rotate(-90) scale(1.07,1.14)" font-family='"Liberation Serif", "Times New Roman", serif' font-size="26" text-anchor="middle">ν</text>
<text transform="translate(385,1342.7) scale(1.2,1.12)" font-family='"Liberation Serif", "Times New Roman", serif' font-size="26" text-anchor="middle">ξ</text>
<rect x="489.7" y="713.6" width="165.9" height="167.3" fill="#fff" stroke="#444" stroke-width="1.4"/>
<text x="572.8" y="744" font-family='"Liberation Sans", Arial, Helvetica, sans-serif' font-size="23" font-weight="bold" text-anchor="middle" word-spacing="1.2">n<tspan font-size="18.5" dy="5.3">1</tspan><tspan dy="-5.3">=3, n</tspan><tspan font-size="18.5" dy="5.3">2</tspan><tspan dy="-5.3">=3</tspan></text>
<line x1="499" y1="769.3" x2="587.5" y2="769.3" stroke="#0000ff" stroke-width="7.5" stroke-linecap="round"/>
<line x1="499" y1="799.2" x2="587.5" y2="799.2" stroke="#006633" stroke-width="7.7" stroke-linecap="round"/>
<circle cx="543" cy="828.7" r="8.3" fill="#ff0000"/>
<circle cx="543" cy="859" r="8.3" fill="#9900cc"/>
<text transform="translate(596,776.9) scale(1.12,1)" font-size="20.5" font-family='"Liberation Serif", "Times New Roman", serif'>σ</text>
<text x="608.6" y="776.9" font-size="20.5" font-family='"Liberation Serif", "Times New Roman", serif'>=0</text>
<text transform="translate(596,806.9) scale(1.12,1)" font-size="20.5" font-family='"Liberation Serif", "Times New Roman", serif'>σ</text>
<text x="608.6" y="806.9" font-size="20.5" font-family='"Liberation Serif", "Times New Roman", serif'>=0.3</text>
<text transform="translate(596,836.9) scale(1.12,1)" font-size="20.5" font-family='"Liberation Serif", "Times New Roman", serif'>σ</text>
<text x="608.6" y="836.9" font-size="20.5" font-family='"Liberation Serif", "Times New Roman", serif'>=0</text>
<text transform="translate(596,866.9) scale(1.12,1)" font-size="20.5" font-family='"Liberation Serif", "Times New Roman", serif'>σ</text>
<text x="608.6" y="866.9" font-size="20.5" font-family='"Liberation Serif", "Times New Roman", serif'>=0.3</text>
</svg>
</body></html>
